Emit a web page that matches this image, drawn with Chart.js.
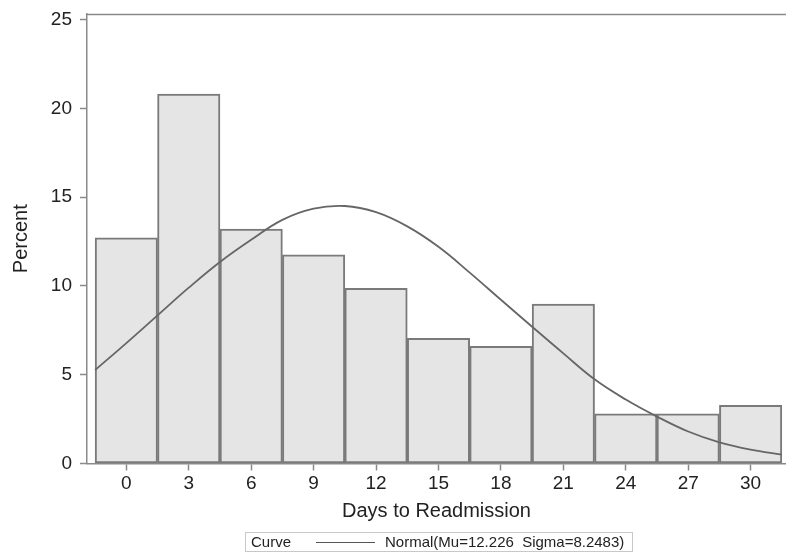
<!DOCTYPE html>
<html><head><meta charset="utf-8">
<script src="https://cdn.jsdelivr.net/npm/chart.js@4"></script>
<style>
html,body{margin:0;padding:0;background:#fff;}
#wrap{position:relative;width:786px;height:558px;overflow:hidden;}
#legend{position:absolute;left:245px;top:532px;width:388px;height:20px;border:1px solid #c8c8c8;box-sizing:border-box;font:15px "Liberation Sans",Arial,sans-serif;color:#222;white-space:pre;}
#legend span{position:absolute;top:0;line-height:18px;}
#legend .ln{position:absolute;left:70px;top:9px;width:59px;height:1px;background:#555;}
</style></head><body>
<div id="wrap">
<canvas id="c" width="786" height="558"></canvas>
<div id="legend"><span style="left:5px" id="lgA"></span><div class="ln"></div><span style="left:139px" id="lgB"></span></div>
</div>
<script>
// ---- data ----
const midpoints = [0, 3, 6, 9, 12, 15, 18, 21, 24, 27, 30];
const percents = [12.7, 20.8, 13.2, 11.75, 9.87, 7.05, 6.6, 8.97, 2.8, 2.8, 3.27];
const curveX = [-1.5, 0, 1.5, 3, 4.5, 6, 7.5, 9, 10.5, 12, 13.5, 15, 16.5, 18, 19.5, 21, 22.5, 24, 25.5, 27, 28.5, 30, 31.5];
const curveY = [5.26, 6.78, 8.34, 9.9, 11.35, 12.6, 13.72, 14.35, 14.5, 14.15, 13.35, 12.2, 10.75, 9.22, 7.7, 6.2, 4.74, 3.6, 2.64, 1.8, 1.19, 0.78, 0.5];
const yTicks = [0, 5, 10, 15, 20, 25];
const xTitle = 'Days to Readmission';
const yTitle = 'Percent';
const legendLabel = 'Curve';
const legendText = 'Normal(Mu=12.226  Sigma=8.2483)';

document.getElementById('lgA').textContent = legendLabel;
document.getElementById('lgB').textContent = legendText;

const FONT = '"Liberation Sans", Arial, sans-serif';
const AX = '#8a8a8a';

const frameTop = {
  id: 'frameTop',
  afterDraw(chart) {
    const {ctx, chartArea: a} = chart;
    ctx.save();
    ctx.strokeStyle = AX; ctx.lineWidth = 1.5;
    ctx.beginPath();
    ctx.moveTo(a.left, a.top + 0.5); ctx.lineTo(a.right, a.top + 0.5);
    ctx.stroke();
    ctx.restore();
  }
};

new Chart(document.getElementById('c'), {
  type: 'bar',
  data: {
    datasets: [
      {
        type: 'line',
        order: 0,
        data: curveX.map((x, i) => ({x, y: curveY[i]})),
        borderColor: '#666',
        borderWidth: 1.8,
        pointRadius: 0,
        tension: 0.4,
        fill: false
      },
      {
        type: 'bar',
        order: 1,
        data: midpoints.map((x, i) => ({x, y: percents[i]})),
        backgroundColor: '#e5e5e5',
        borderColor: '#7a7a7a',
        borderWidth: 2,
        borderSkipped: false,
        barPercentage: 1,
        categoryPercentage: 1
      }
    ]
  },
  options: {
    responsive: false,
    animation: false,
    events: [],
    layout: {padding: {top: 14, left: 0, right: 0, bottom: 0}},
    plugins: {legend: {display: false}, tooltip: {enabled: false}},
    scales: {
      x: {
        type: 'linear',
        position: 'bottom',
        offset: false,
        min: -1.89, max: 31.7,
        afterBuildTicks: s => { s.ticks = midpoints.map(v => ({value: v})); },
        afterFit: s => { s.height = 94.5; s.paddingLeft = 0; s.paddingRight = 0; },
        ticks: {font: {family: FONT, size: 19}, color: '#222', padding: 2, autoSkip: false, maxRotation: 0, minRotation: 0},
        grid: {display: true, offset: false, drawOnChartArea: false, drawTicks: true, tickLength: 7, color: AX, tickColor: AX, tickWidth: 1.5},
        border: {display: true, color: AX, width: 1.5},
        title: {display: true, text: xTitle, font: {family: FONT, size: 20}, color: '#222', padding: {top: 0, bottom: 35}}
      },
      y: {
        type: 'linear',
        min: 0, max: 25.31,
        afterBuildTicks: s => { s.ticks = yTicks.map(v => ({value: v})); },
        afterFit: s => { s.width = 87; s.paddingTop = 0; s.paddingBottom = 0; },
        ticks: {font: {family: FONT, size: 19}, color: '#222', padding: 8},
        grid: {display: true, drawOnChartArea: false, drawTicks: true, tickLength: 7, color: AX, tickColor: AX, tickWidth: 1.5},
        border: {display: true, color: AX, width: 1.5},
        title: {display: true, text: yTitle, font: {family: FONT, size: 20}, color: '#222', padding: {top: 9, bottom: 0}}
      }
    }
  },
  plugins: [frameTop]
});
</script>
</body></html>
